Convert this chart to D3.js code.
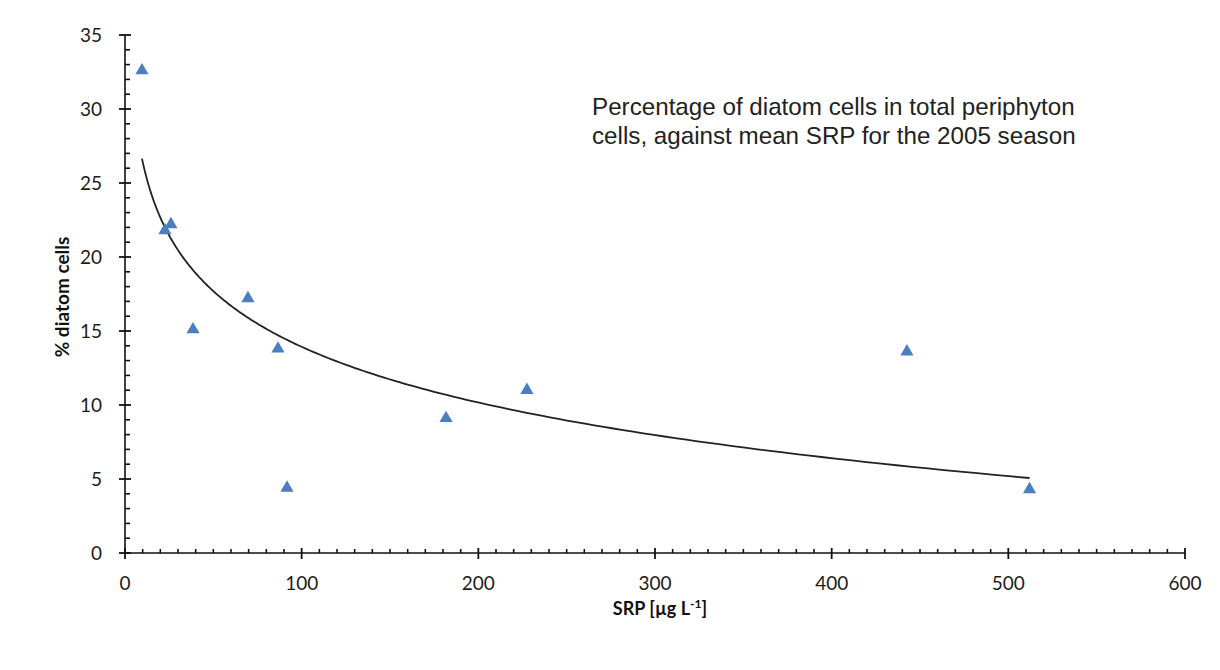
<!DOCTYPE html>
<html>
<head>
<meta charset="utf-8">
<script src="https://cdn.jsdelivr.net/npm/d3@7"></script>
<style>
  html, body { margin: 0; padding: 0; background: #fff; }
  svg { display: block; }
</style>
</head>
<body>
<svg id="chart" width="1220" height="670"></svg>
<script>
// Mean SRP (µg L⁻¹) per site and the share of diatom cells (%) in periphyton, 2005 season
const srp = [9.6, 22.6, 26.0, 38.5, 69.6, 86.6, 91.7, 181.7, 227.5, 442.6, 512.0];
const diatomPct = [32.6, 21.8, 22.2, 15.1, 17.2, 13.8, 4.4, 9.1, 11.0, 13.6, 4.3];
const xTicks = [0, 100, 200, 300, 400, 500, 600];
const yTicks = [0, 5, 10, 15, 20, 25, 30, 35];
const noteLines = [
  "Percentage of diatom cells in total periphyton",
  "cells, against mean SRP for the 2005 season"
];

const svg = d3.select("#chart");
const margin = { left: 125, right: 35, top: 35, bottom: 117 };
const W = 1220, H = 670;

const x = d3.scaleLinear().domain([0, 600]).range([margin.left, W - margin.right]);
const y = d3.scaleLinear().domain([0, 35]).range([H - margin.bottom, margin.top]);

const tickFont = "Lato, 'Open Sans', sans-serif";
const ink = "#111";

// Minor ticks: every 10 on x (upward), every 1 on y (to the right)
const g = svg.append("g");
d3.range(0, 601, 10).filter(v => v % 100 !== 0).forEach(v => {
  g.append("line").attr("x1", x(v)).attr("x2", x(v))
    .attr("y1", y(0)).attr("y2", y(0) - 4)
    .attr("stroke", ink).attr("stroke-width", 1.6);
});
d3.range(0, 36, 1).filter(v => v % 5 !== 0).forEach(v => {
  g.append("line").attr("x1", x(0)).attr("x2", x(0) + 5)
    .attr("y1", y(v)).attr("y2", y(v))
    .attr("stroke", ink).attr("stroke-width", 1.6);
});

// Axis lines
g.append("line").attr("x1", x(0)).attr("x2", x(600)).attr("y1", y(0)).attr("y2", y(0))
  .attr("stroke", ink).attr("stroke-width", 1.6);
g.append("line").attr("x1", x(0)).attr("x2", x(0)).attr("y1", y(0)).attr("y2", y(35))
  .attr("stroke", ink).attr("stroke-width", 1.6);

// Major ticks crossing the axes, with their labels
xTicks.forEach(v => {
  g.append("line").attr("x1", x(v)).attr("x2", x(v))
    .attr("y1", y(0) - 5).attr("y2", y(0) + 6)
    .attr("stroke", ink).attr("stroke-width", 1.8);
  g.append("text").attr("x", x(v)).attr("y", y(0) + 30).attr("dy", "0.36em")
    .attr("text-anchor", "middle")
    .attr("font-family", tickFont).attr("font-size", 19).attr("fill", "#1c1c1c")
    .text(v);
});
yTicks.forEach(v => {
  g.append("line").attr("x1", x(0) - 6).attr("x2", x(0) + 6)
    .attr("y1", y(v)).attr("y2", y(v))
    .attr("stroke", ink).attr("stroke-width", 1.8);
  g.append("text").attr("x", x(0) - 23).attr("y", y(v)).attr("dy", "0.36em")
    .attr("text-anchor", "end")
    .attr("font-family", tickFont).attr("font-size", 19).attr("fill", "#1c1c1c")
    .text(v);
});

// Axis titles
svg.append("text")
  .attr("transform", `translate(62,${(y(0) + y(35)) / 2 + 3}) rotate(-90)`)
  .attr("text-anchor", "middle").attr("dy", "0.35em")
  .attr("font-family", tickFont).attr("font-weight", "bold")
  .attr("font-size", 19).attr("fill", ink)
  .text("% diatom cells");

const xt = svg.append("text")
  .attr("x", (x(0) + x(600)) / 2 + 5).attr("y", 615)
  .attr("text-anchor", "middle")
  .attr("font-family", tickFont).attr("font-weight", "bold")
  .attr("font-size", 18).attr("fill", ink);
xt.append("tspan").text("SRP [µg L");
xt.append("tspan").attr("dy", -7).attr("font-size", 12).text("-1");
xt.append("tspan").attr("dy", 7).text("]");

// Logarithmic least-squares trend line: y = a + b ln(x)
const lx = srp.map(Math.log);
const mx = d3.mean(lx), my = d3.mean(diatomPct);
const b = d3.sum(lx, (v, i) => (v - mx) * (diatomPct[i] - my)) / d3.sum(lx, v => (v - mx) ** 2);
const a = my - b * mx;
const [x0, x1] = d3.extent(srp);
const trend = d3.range(0, 201).map(i => {
  const xv = x0 * Math.pow(x1 / x0, i / 200);
  return [xv, a + b * Math.log(xv)];
});
svg.append("path")
  .datum(trend)
  .attr("d", d3.line().x(d => x(d[0])).y(d => y(d[1])))
  .attr("fill", "none").attr("stroke", "#222").attr("stroke-width", 1.8);

// Data points
const tri = d3.symbol().type(d3.symbolTriangle).size(75);
svg.append("g").selectAll("path")
  .data(srp.map((v, i) => [v, diatomPct[i]]))
  .join("path")
  .attr("d", tri)
  .attr("transform", d => `translate(${x(d[0])},${y(d[1])})`)
  .attr("fill", "#4a7ebd");

// Annotation
const note = svg.append("text")
  .attr("font-family", "'Liberation Sans', Arial, sans-serif")
  .attr("font-size", 24.2).attr("fill", "#222");
noteLines.forEach((t, i) => {
  note.append("tspan").attr("x", 592).attr("y", 115 + i * 29).text(t);
});
</script>
</body>
</html>
